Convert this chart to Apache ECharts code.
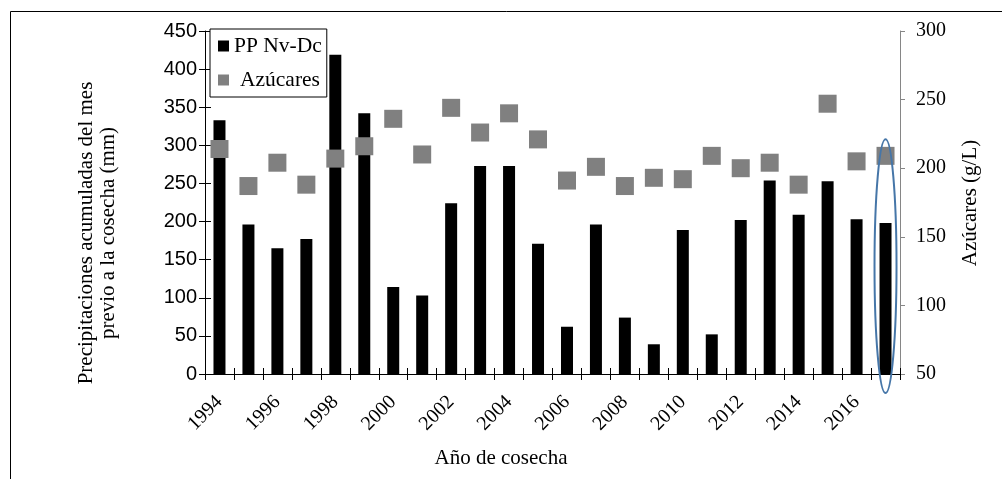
<!DOCTYPE html>
<html>
<head>
<meta charset="utf-8">
<script src="https://cdn.jsdelivr.net/npm/echarts@6/dist/echarts.min.js"></script>
<style>
  html, body { margin: 0; padding: 0; background: #fff; }
  #chart { width: 1002px; height: 479px; }
</style>
</head>
<body>
<div id="chart"></div>
<script>
// Harvest years
const years = ['1994','1995','1996','1997','1998','1999','2000','2001','2002','2003','2004','2005',
               '2006','2007','2008','2009','2010','2011','2012','2013','2014','2015','2016','2017'];
// Accumulated rainfall (mm), Nov-Dec before harvest
const precip = [333, 196, 165, 177, 419, 342, 114, 103, 224, 273, 273, 171,
                62, 196, 74, 39, 189, 52, 202, 254, 209, 253, 203, 198];
// Sugar content (g/L)
const azucares = [214, 187, 204, 188, 207, 216, 236, 210, 244, 226, 240, 221,
                  191, 201, 187, 193, 192, 209, 200, 204, 188, 247, 205, 209];

// Highlight around the last harvest, in left-axis units
const highlightYear = '2017';
const highlightTop = 308;
const highlightBottom = -25;

const SERIF = '"Liberation Serif", "Times New Roman", serif';
const SANS = '"Liberation Sans", Arial, sans-serif';

const chart = echarts.init(document.getElementById('chart'), null, { renderer: 'canvas' });

chart.setOption({
  animation: false,
  backgroundColor: '#fff',
  grid: { left: 205, right: 102, top: 31, bottom: 105 },
  legend: {
    data: ['PP Nv-Dc', 'Azúcares'],
    orient: 'vertical',
    left: 210,
    top: 29,
    icon: 'rect',
    itemWidth: 11,
    itemHeight: 11,
    itemGap: 12,
    padding: [6, 5, 6, 8],
    borderColor: '#000',
    borderWidth: 1,
    backgroundColor: '#fff',
    formatter: function (name) {
      return name === 'Azúcares' ? '{s|' + name + '}' : name;
    },
    textStyle: {
      fontFamily: SERIF, fontSize: 21.5, color: '#000',
      rich: { s: { fontFamily: SERIF, fontSize: 21.5, color: '#000', padding: [0, 0, 0, 6] } }
    }
  },
  xAxis: [
    {
      type: 'category',
      data: years,
      position: 'bottom',
      axisLine: { lineStyle: { color: '#000', width: 1 } },
      axisTick: { show: true, interval: 0, length: 6, lineStyle: { color: '#000' } },
      axisLabel: {
        interval: 1, rotate: 45, margin: 25,
        fontFamily: SERIF, fontSize: 20, color: '#000'
      },
      splitLine: { show: false }
    },
    {
      // inner half of the crossing ticks
      type: 'category',
      data: years,
      position: 'bottom',
      axisLine: { show: false },
      axisTick: { show: true, inside: true, interval: 0, length: 6, lineStyle: { color: '#000' } },
      axisLabel: { show: false },
      splitLine: { show: false }
    }
  ],
  yAxis: [
    {
      type: 'value',
      position: 'left',
      min: 0, max: 450, interval: 50,
      axisLine: { show: true, lineStyle: { color: '#000', width: 1 } },
      axisTick: { show: true, length: 6, lineStyle: { color: '#000' } },
      axisLabel: { margin: 8, fontFamily: SANS, fontSize: 20, color: '#000' },
      splitLine: { show: false }
    },
    {
      type: 'value',
      position: 'right',
      min: 50, max: 300, interval: 50,
      axisLine: { show: true, lineStyle: { color: '#868686', width: 1 } },
      axisTick: { show: true, length: 5, lineStyle: { color: '#868686' } },
      axisLabel: { margin: 16, fontFamily: SERIF, fontSize: 20, color: '#000' },
      splitLine: { show: false }
    },
    {
      // inner half of the crossing ticks on the left axis
      type: 'value',
      position: 'left',
      min: 0, max: 450, interval: 50,
      axisLine: { show: false },
      axisTick: { show: true, inside: true, length: 6, lineStyle: { color: '#000' } },
      axisLabel: { show: false },
      splitLine: { show: false }
    }
  ],
  series: [
    {
      name: 'PP Nv-Dc',
      type: 'bar',
      xAxisIndex: 0,
      yAxisIndex: 0,
      data: precip,
      barWidth: 12,
      itemStyle: { color: '#000' },
      z: 2
    },
    {
      name: 'Azúcares',
      type: 'scatter',
      xAxisIndex: 0,
      yAxisIndex: 1,
      data: azucares,
      symbol: 'rect',
      symbolSize: 18,
      itemStyle: { color: '#808080', opacity: 1 },
      z: 3
    }
  ]
});

// Highlight ellipse around the last harvest, positioned through the axes
const cx = chart.convertToPixel({ xAxisIndex: 0 }, highlightYear);
const yTop = chart.convertToPixel({ yAxisIndex: 0 }, highlightTop);
const yBottom = chart.convertToPixel({ yAxisIndex: 0 }, highlightBottom);
const catWidth = (1002 - 205 - 102) / years.length;

chart.setOption({
  graphic: [
    {
      // chart frame (left and top edges)
      type: 'polyline',
      silent: true,
      shape: { points: [[10.5, 479], [10.5, 11.5], [1002, 11.5]] },
      style: { stroke: '#000', lineWidth: 1, fill: null },
      z: 10
    },
    {
      type: 'ellipse',
      silent: true,
      shape: { cx: cx, cy: (yTop + yBottom) / 2, rx: catWidth * 0.38, ry: (yBottom - yTop) / 2 },
      style: { stroke: '#4676a8', lineWidth: 2, fill: null },
      z: 100
    },
    {
      type: 'text',
      silent: true,
      x: 97, y: 233,
      rotation: Math.PI / 2,
      style: {
        text: 'Precipitaciones acumuladas del mes\nprevio a la cosecha (mm)',
        font: '21px ' + SERIF,
        fill: '#000',
        align: 'center',
        verticalAlign: 'middle',
        lineHeight: 22
      }
    },
    {
      type: 'text',
      silent: true,
      x: 970, y: 203,
      rotation: Math.PI / 2,
      style: {
        text: 'Azúcares (g/L)',
        font: '21px ' + SERIF,
        fill: '#000',
        align: 'center',
        verticalAlign: 'middle'
      }
    },
    {
      type: 'text',
      silent: true,
      x: 501, y: 458,
      style: {
        text: 'Año de cosecha',
        font: '21px ' + SERIF,
        fill: '#000',
        align: 'center',
        verticalAlign: 'middle'
      }
    }
  ]
});
</script>
</body>
</html>
